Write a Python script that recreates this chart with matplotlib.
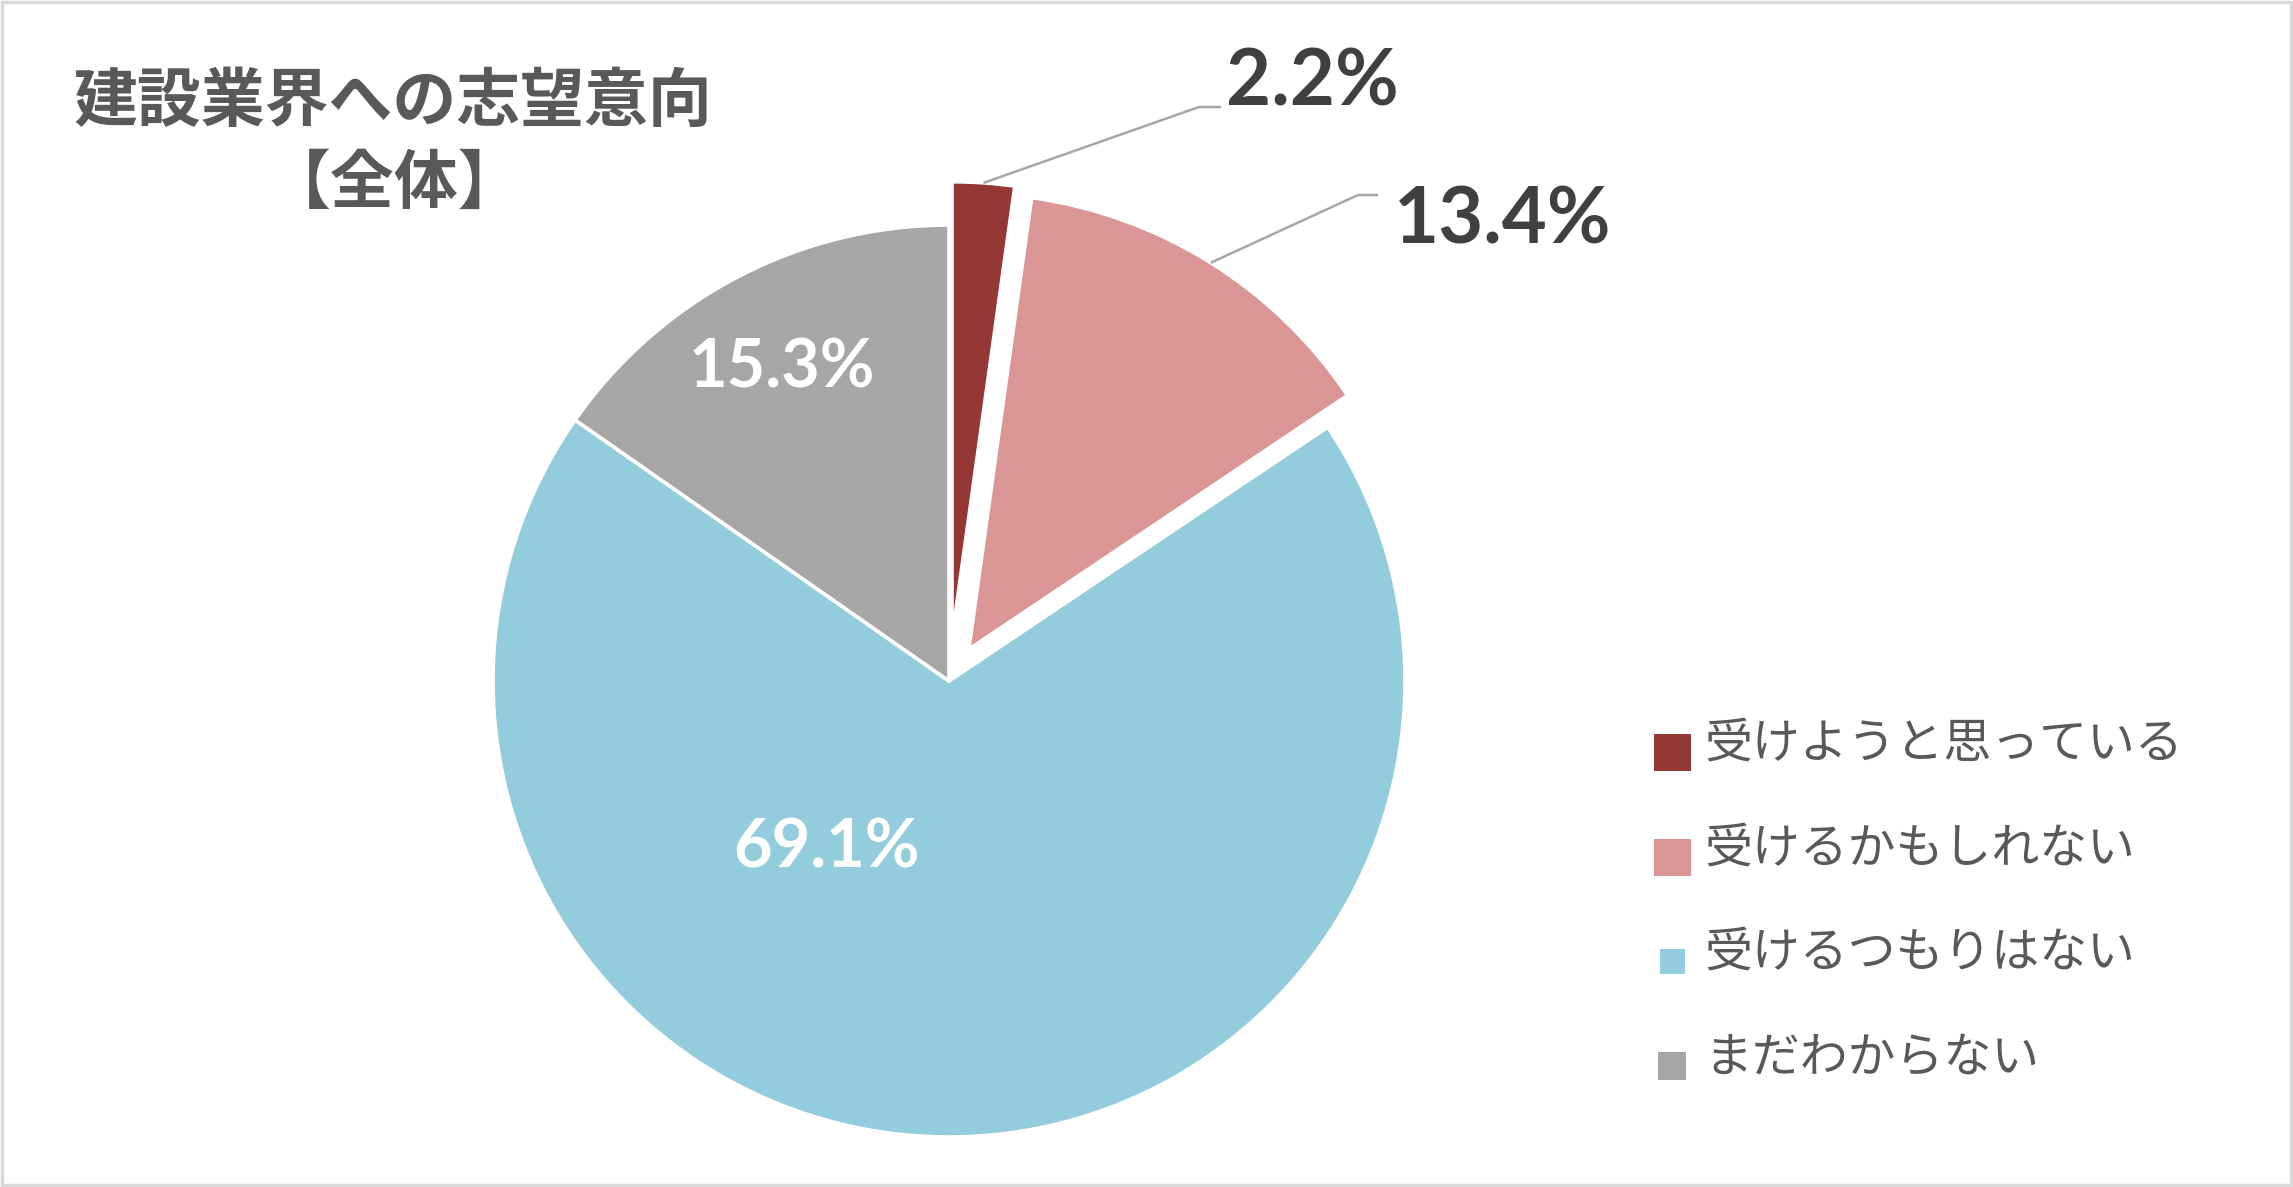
import matplotlib
matplotlib.use("Agg")
import matplotlib.pyplot as plt
from matplotlib.patches import Rectangle
import numpy as np

# ---- data ----
categories = ["受けようと思っている", "受けるかもしれない", "受けるつもりはない", "まだわからない"]
values = [2.2, 13.4, 69.1, 15.3]
colors = ["#953735", "#D99694", "#93CDDD", "#A6A6A6"]
title_line1 = "建設業界への志望意向"
title_line2 = "【全体】"

# ---- layout (pixels, image coords: y down) ----
W, H = 2293, 1187
cx, cy, R = 949, 681, 456
explode_frac = [0.095, 0.082, 0.0, 0.0]

def Y(y):
    return H - y

plt.rcParams['font.family'] = ['Noto Sans CJK JP', 'DejaVu Sans']
fig = plt.figure(figsize=(W / 100, H / 100), dpi=100)
ax = fig.add_axes([0, 0, 1, 1])

wedges, _ = ax.pie(values, colors=colors, startangle=90, counterclock=False,
                   radius=R, center=(cx, Y(cy)),
                   explode=[e * R for e in explode_frac],
                   wedgeprops=dict(edgecolor="white", linewidth=2.6,
                                   joinstyle='round'))
ax.set_xlim(0, W)
ax.set_ylim(0, H)
ax.set_aspect('auto')
ax.axis('off')

num_font = ['Lato', 'DejaVu Sans']

# inside labels (white)
inside = {3: (782, 368), 2: (827, 848)}
for i, (x, y) in inside.items():
    ax.text(x, Y(y), f"{values[i]:.1f}%", color="white", fontsize=48,
            fontweight='bold', family=num_font, ha='center', va='center')

# outside labels with leader lines
outside = {
    0: dict(bend=(1199, 107), end=(1221, 107), text=(1226, 84)),
    1: dict(bend=(1358, 195), end=(1378, 195), text=(1394, 222)),
}
for i, o in outside.items():
    w = wedges[i]
    mid = np.deg2rad((w.theta1 + w.theta2) / 2)
    wx, wy = w.center
    sx = wx + w.r * np.cos(mid)
    sy = wy + w.r * np.sin(mid)
    bx, by = o['bend']
    ex, ey = o['end']
    ax.plot([sx, bx, ex], [sy, Y(by), Y(ey)], color="#A6A6A6", lw=1.8,
            solid_capstyle='butt', zorder=5)
    tx, ty = o['text']
    ax.text(tx, Y(ty), f"{values[i]:.1f}%", color="#404040", fontsize=56,
            fontweight='bold', family=num_font, ha='left', va='center')

# title
ax.text(393, Y(102), title_line1, color="#595959", fontsize=46,
        fontweight='bold', ha='center', va='center')
ax.text(395, Y(184), title_line2, color="#595959", fontsize=46,
        fontweight='bold', ha='center', va='center')

# legend (manual)
row_y = [752, 857, 961, 1066]
msize = [37, 37, 25, 28]
mx = 1672
for lab, col, ry, s in zip(categories, colors, row_y, msize):
    ax.add_patch(Rectangle((mx - s / 2, Y(ry) - s / 2), s, s, facecolor=col,
                           edgecolor='none'))
    ax.text(1704, Y(ry - 8), lab, color="#595959", fontsize=34.5,
            ha='left', va='center')

# border
fig.add_artist(Rectangle((0.0008, 0.0015), 0.9984, 0.997, transform=fig.transFigure,
                         fill=False, edgecolor="#D9D9D9", linewidth=2.5))

fig.savefig("out.png", dpi=100, facecolor="white")
